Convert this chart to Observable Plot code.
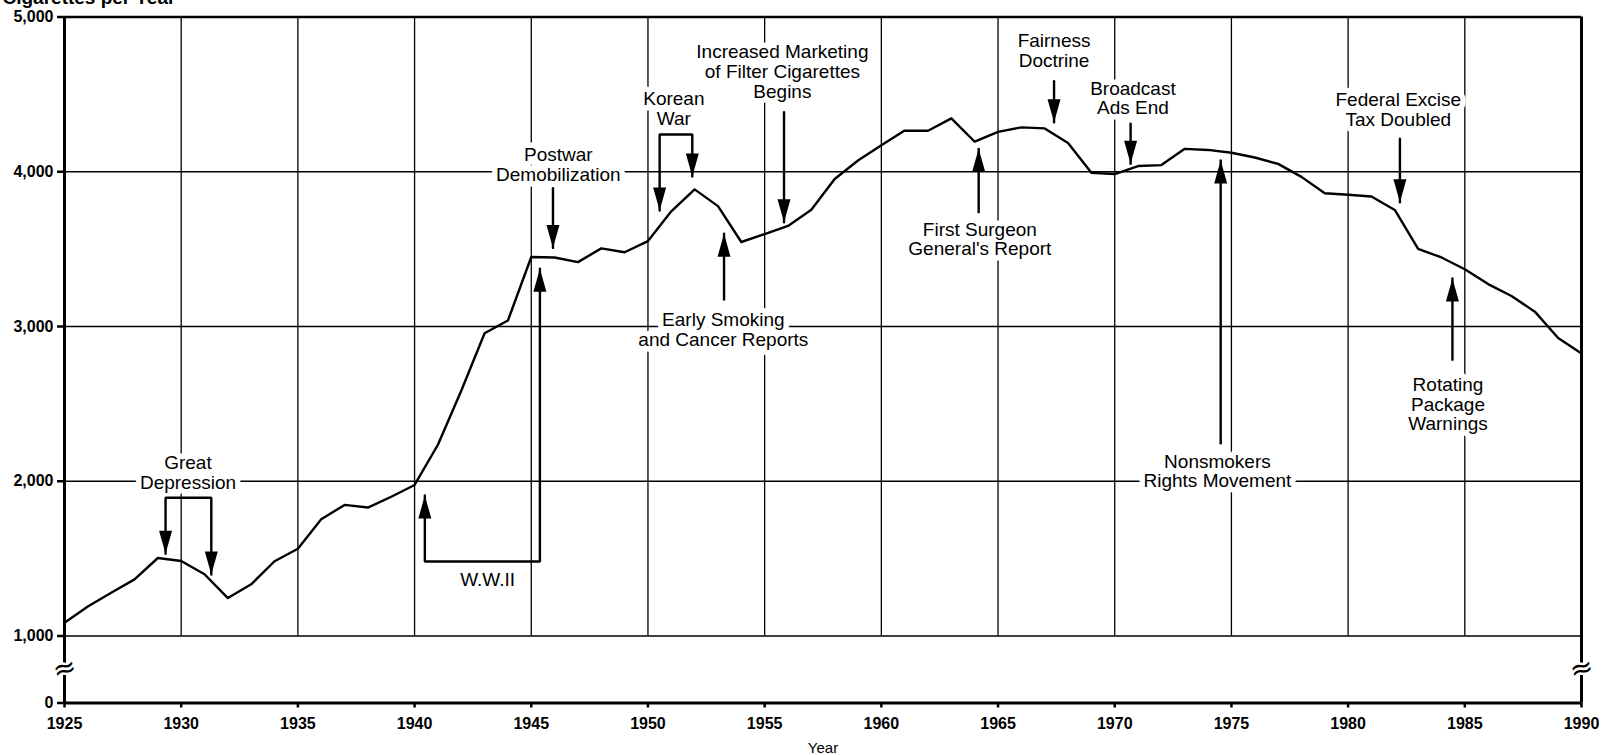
<!DOCTYPE html>
<html><head><meta charset="utf-8">
<script src="https://cdn.jsdelivr.net/npm/d3@7"></script>
<script src="https://cdn.jsdelivr.net/npm/@observablehq/plot@0.6"></script>
<style>html,body{margin:0;padding:0;background:#fff;} svg{display:block}</style>
</head><body><div id="chart"></div>
<script>
// ---- data ----
const years = [1925,1926,1927,1928,1929,1930,1931,1932,1933,1934,1935,1936,1937,1938,1939,
  1940,1941,1942,1943,1944,1945,1946,1947,1948,1949,1950,1951,1952,1953,1954,1955,1956,1957,
  1958,1959,1960,1961,1962,1963,1964,1965,1966,1967,1968,1969,1970,1971,1972,1973,1974,1975,
  1976,1977,1978,1979,1980,1981,1982,1983,1984,1985,1986,1987,1988,1989,1990];
const cigarettesPerYear = [1085,1191,1279,1366,1504,1485,1399,1245,1334,1483,1564,1754,1847,1830,1900,
  1976,2236,2585,2956,3039,3449,3446,3416,3505,3480,3552,3744,3886,3778,3546,3597,3650,3755,
  3953,4073,4171,4266,4265,4345,4194,4258,4287,4280,4186,3993,3985,4037,4043,4148,4141,4123,
  4092,4051,3967,3861,3851,3840,3753,3502,3446,3370,3274,3197,3096,2926,2826];

const yTicks = [0,1000,2000,3000,4000,5000];
const xTicks = [1925,1930,1935,1940,1945,1950,1955,1960,1965,1970,1975,1980,1985,1990];
const gridYears = [1930,1935,1940,1945,1950,1955,1960,1965,1970,1975,1980,1985];
const gridValues = [1000,2000,3000,4000];

// annotation labels (position of last line's baseline, in data units)
const labelTexts = ["Great\nDepression","W.W.II","Postwar\nDemobilization","Korean\nWar",
  "Increased Marketing\nof Filter Cigarettes\nBegins","Early Smoking\nand Cancer Reports",
  "First Surgeon\nGeneral's Report","Fairness\nDoctrine","Broadcast\nAds End",
  "Federal Excise\nTax Doubled","Nonsmokers\nRights Movement","Rotating\nPackage\nWarnings"];
const labelYears = [1930.29,1943.13,1946.16,1951.11,1955.76,1953.23,1964.22,1967.40,1970.78,1982.15,1974.40,1984.28];
const labelValues = [1953,1320,3943,4305,4478,2873,3459,4676,4370,4294,1960,2328];

// arrow paths: [year, value] points; first/last points are arrow tips
const arrowPaths = [
  [[1929.33,1531],[1929.33,1893],[1931.29,1893],[1931.29,1397]],
  [[1940.44,1908],[1940.44,1481],[1945.37,1481],[1945.37,3373]],
  [[1945.93,3894],[1945.93,3508]],
  [[1950.50,3750],[1950.50,4241],[1951.90,4241],[1951.90,3969]],
  [[1955.83,4385],[1955.83,3674]],
  [[1953.26,3174],[1953.26,3599]],
  [[1964.17,3739],[1964.17,4148]],
  [[1967.40,4585],[1967.40,4320]],
  [[1970.68,4310],[1970.68,4051]],
  [[1982.22,4213],[1982.22,3803]],
  [[1974.54,2246],[1974.54,4073]],
  [[1984.47,2785],[1984.47,3310]]
];
const downTips = [[1929.33,1531],[1931.29,1397],[1945.93,3508],[1950.50,3750],[1951.90,3969],
  [1955.83,3674],[1967.40,4320],[1970.68,4051],[1982.22,3803]];
const upTips = [[1940.44,1908],[1945.37,3373],[1953.26,3599],[1964.17,4148],[1974.54,4073],[1984.47,3310]];

// ---- build ----
const series = years.map((yr, i) => ({year: yr, value: cigarettesPerYear[i]}));
const labels = labelTexts.map((t, i) => ({text: t, year: labelYears[i], value: labelValues[i]}));
const arrowPts = arrowPaths.flatMap((p, id) => p.map(([x, y]) => ({id, x, y})));

// broken axis: 0–1000 compressed
const brokenY = v => v <= 1000 ? v * 0.067 : 67 + (v - 1000) * 0.15475;

const headDown = {draw(ctx){ctx.moveTo(0,0);ctx.lineTo(-6.5,-23);ctx.lineTo(6.5,-23);ctx.closePath();}};
const headUp = {draw(ctx){ctx.moveTo(0,0);ctx.lineTo(-6.5,23);ctx.lineTo(6.5,23);ctx.closePath();}};

const labelOpts = {x: "year", y: "value", text: "text", fontSize: 19, lineHeight: 1.05,
  lineAnchor: "bottom", textAnchor: "middle"};

const chart = Plot.plot({
  width: 1601,
  height: 755,
  marginTop: 16.5,
  marginBottom: 52.5,
  marginLeft: 64,
  marginRight: 20,
  style: {fontFamily: "'Liberation Sans', Arial, Helvetica, sans-serif", fontSize: "16px",
    background: "#fff", color: "#000", overflow: "visible"},
  x: {domain: [1925, 1990]},
  y: {transform: brokenY, domain: [0, brokenY(5000)], range: [702.5, 16.5]},
  marks: [
    Plot.ruleX(gridYears, {y1: 1000, y2: 5000, stroke: "#000", strokeWidth: 1.3}),
    Plot.ruleY(gridValues, {x1: 1925, x2: 1990, stroke: "#000", strokeWidth: 1.3}),
    // white knock-out behind annotation text
    Plot.text(labels, {...labelOpts, fill: "#fff", stroke: "#fff", strokeWidth: 11, strokeLinejoin: "round"}),
    Plot.text(labels, {...labelOpts, fill: "#000"}),
    Plot.line(series, {x: "year", y: "value", stroke: "#000", strokeWidth: 2.4}),
    Plot.line(arrowPts, {x: "x", y: "y", z: "id", stroke: "#000", strokeWidth: 2.4, strokeLinejoin: "miter"}),
    Plot.dot(downTips, {x: d => d[0], y: d => d[1], symbol: headDown, fill: "#000", r: 5}),
    Plot.dot(upTips, {x: d => d[0], y: d => d[1], symbol: headUp, fill: "#000", r: 5}),
    // frame
    Plot.ruleY([5000], {x1: 1925, x2: 1990, stroke: "#000", strokeWidth: 2.5}),
    Plot.ruleY([0], {x1: 1925, x2: 1990, stroke: "#000", strokeWidth: 3}),
    Plot.ruleX([1925, 1990], {y1: 0, y2: 5000, stroke: "#000", strokeWidth: 3}),
    // axis breaks
    Plot.text([1925, 1990], {x: d => d, y: () => 515, text: () => "≈", fontFamily: "DejaVu Sans", fontSize: 28,
      rotate: -15, fill: "#000", stroke: "#fff", strokeWidth: 5, paintOrder: "stroke", lineAnchor: "middle"}),
    Plot.axisY(yTicks, {tickFormat: d3.format(","), tickSize: 7, tickPadding: 4, fontWeight: "bold",
      fontSize: 16, strokeWidth: 2.5, label: null}),
    Plot.axisX(xTicks, {tickFormat: d3.format("d"), tickSize: 5, tickPadding: 10, fontWeight: "bold",
      fontSize: 16, strokeWidth: 2.5, label: null}),
    Plot.text(["Year"], {frameAnchor: "bottom", dy: 49.5, lineAnchor: "bottom", text: d => d, fontSize: 15}),
    Plot.text(["Cigarettes per Year"], {frameAnchor: "top-left", dx: -62, dy: -13, textAnchor: "start",
      lineAnchor: "bottom", text: d => d, fontWeight: "bold", fontSize: 19})
  ]
});
document.getElementById("chart").appendChild(chart);
</script>
</body></html>
